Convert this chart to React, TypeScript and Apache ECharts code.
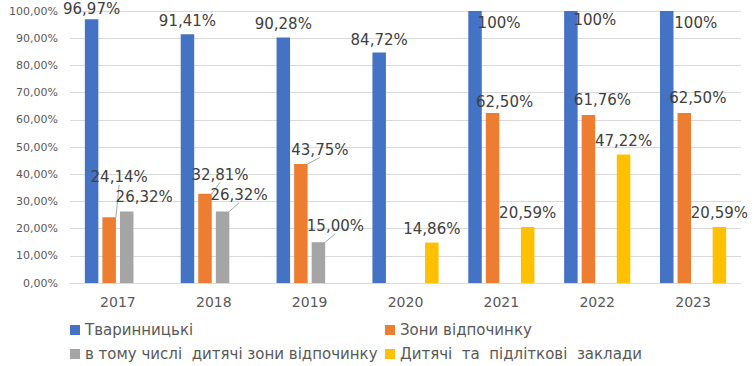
import React, { useEffect, useRef } from "react";
import * as echarts from "echarts";

const categories = ["2017", "2018", "2019", "2020", "2021", "2022", "2023"];
const seriesNames = [
  "Тваринницькі",
  "Зони відпочинку",
  "в тому числі  дитячі зони відпочинку",
  "Дитячі  та  підліткові  заклади",
];
const livestock = [96.97, 91.41, 90.28, 84.72, 100, 100, 100];
const recreation = [24.14, 32.81, 43.75, null, 62.5, 61.76, 62.5];
const kidsRecreation = [26.32, 26.32, 15.0, null, null, null, null];
const kidsInstitutions = [null, null, null, 14.86, 20.59, 47.22, 20.59];
const yTicks = [0, 10, 20, 30, 40, 50, 60, 70, 80, 90, 100];

// label placement (offset of label centre from bar top centre), and which have leader lines
const labelOffsets: (number[] | null)[][] = [
  [[0, -10], [0, -13], [0, -13], [0, -13], [24, 12], [24, 9], [29, 12]],
  [[10, -40], [15, -19], [19, -14], null, [12, -11], [14, -15], [13.5, -15]],
  [[17.5, -14], [16.5, -16], [17, -16], null, null, null, null],
  [null, null, null, [0, -14], [0, -14], [0, -14], [0, -14]],
];
const leaderLines: boolean[][] = [
  [false, false, false, false, false, false, false],
  [true, true, true, false, false, false, false],
  [false, true, true, false, false, false, false],
  [false, false, false, false, false, false, false],
];

const colors = ["#4472c4", "#ed7d31", "#a5a5a5", "#ffc000"];
const FONT = "DejaVu Sans";

const fmtLabel = (v: number) =>
  v === 100 ? "100%" : v.toFixed(2).replace(".", ",") + "%";

export default function App() {
  const ref = useRef<HTMLDivElement>(null);
  useEffect(() => {
    document.body.style.margin = "0";
    if (!ref.current) return;
    const chart = echarts.init(ref.current, null, { renderer: "svg" });
    const allData = [livestock, recreation, kidsRecreation, kidsInstitutions];
    const series = allData.map((arr, si) => ({
      name: seriesNames[si],
      type: "bar",
      barWidth: 13.5,
      barGap: "30%",
      itemStyle: { color: colors[si] },
      label: {
        show: true,
        position: "top",
        color: "#404040",
        fontFamily: FONT,
        fontSize: 15,
        formatter: (p: any) => fmtLabel(p.value),
      },
      labelLine: {
        show: false,
        lineStyle: { color: "#a6a6a6", width: 1 },
      },
      labelLayout: (params: any) => {
        const off = labelOffsets[si][params.dataIndex];
        const r = params.rect;
        if (!off || !r) return {};
        return {
          x: r.x + r.width / 2 + off[0],
          y: r.y + off[1],
          align: "center",
          verticalAlign: "middle",
        };
      },
      data: arr.map((v, di) =>
        v === null
          ? null
          : {
              value: v,
              labelLine: {
                show: leaderLines[si][di],
                lineStyle: { color: "#a6a6a6", width: 1 },
              },
            }
      ),
    }));
    const legendText = { color: "#595959", fontFamily: FONT, fontSize: 15, lineHeight: 16 };
    const legendBase = {
      orient: "vertical",
      top: 322,
      padding: 0,
      itemWidth: 10,
      itemHeight: 10,
      itemGap: 8,
      icon: "rect",
      textStyle: legendText,
    };
    chart.setOption({
      animation: false,
      grid: { left: 70, right: 13, top: 11, bottom: 83 },
      legend: [
        { ...legendBase, data: [seriesNames[0], seriesNames[2]], left: 70 },
        { ...legendBase, data: [seriesNames[1], seriesNames[3]], left: 385 },
      ],
      xAxis: {
        type: "category",
        data: categories,
        axisTick: { show: false },
        axisLine: { lineStyle: { color: "#d9d9d9" } },
        axisLabel: { color: "#595959", fontFamily: FONT, fontSize: 14, margin: 12 },
      },
      yAxis: {
        type: "value",
        min: yTicks[0],
        max: yTicks[yTicks.length - 1],
        interval: 10,
        axisLine: { show: false },
        axisTick: { show: false },
        splitLine: { lineStyle: { color: "#d9d9d9" } },
        axisLabel: {
          color: "#595959",
          fontFamily: FONT,
          fontSize: 11,
          margin: 12,
          formatter: (v: number) => v.toFixed(2).replace(".", ",") + "%",
        },
      },
      series,
    });
    return () => chart.dispose();
  }, []);
  return <div ref={ref} style={{ width: 754, height: 366 }} />;
}
